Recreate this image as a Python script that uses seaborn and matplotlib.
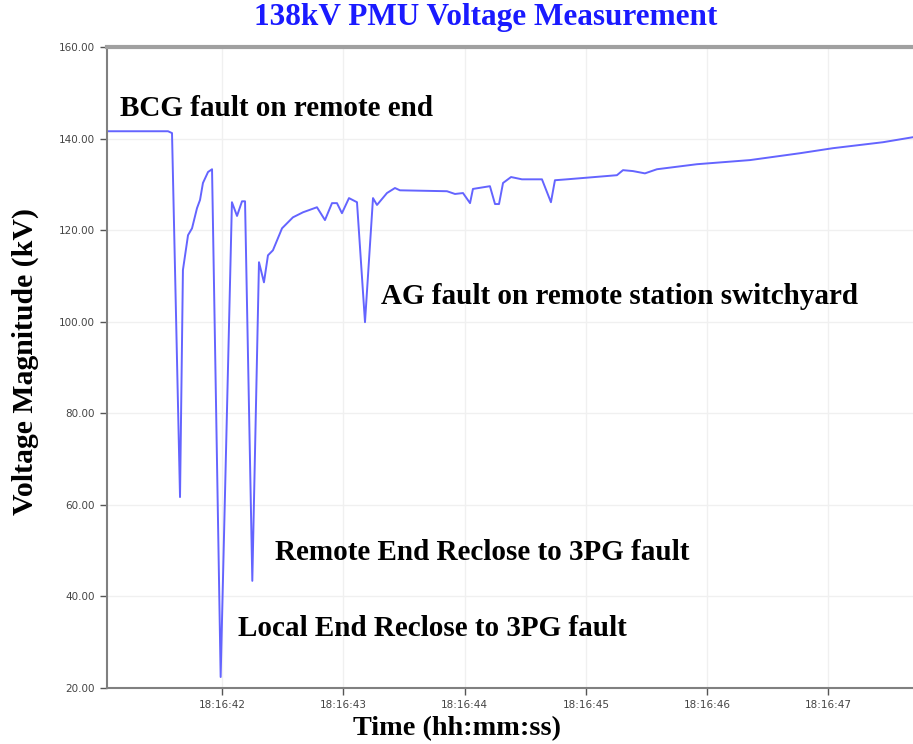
import pandas as pd
import numpy as np
import matplotlib
matplotlib.use("Agg")
import matplotlib.pyplot as plt
import matplotlib.dates as mdates
import seaborn as sns

# seconds after 18:16:00
seconds = [41.052, 41.555, 41.588, 41.654, 41.678, 41.720, 41.753, 41.794, 41.819, 41.843,
           41.885, 41.918, 41.989, 42.082, 42.124, 42.165, 42.190, 42.250, 42.305, 42.346,
           42.379, 42.420, 42.495, 42.585, 42.668, 42.783, 42.849, 42.907, 42.948, 42.989,
           43.047, 43.113, 43.179, 43.245, 43.278, 43.360, 43.426, 43.467, 43.855, 43.921,
           43.987, 44.045, 44.069, 44.209, 44.251, 44.284, 44.317, 44.383, 44.473, 44.638,
           44.712, 44.745, 44.844, 45.256, 45.306, 45.388, 45.487, 45.586, 45.916, 46.353,
           46.765, 47.037, 47.449, 47.697]
voltage_kv = [141.6, 141.6, 141.2, 61.7, 111.3, 118.9, 120.4, 124.8, 126.6, 130.3,
              132.7, 133.3, 22.4, 126.1, 123.1, 126.3, 126.3, 43.4, 113.0, 108.6,
              114.5, 115.6, 120.4, 122.8, 123.9, 125.0, 122.2, 125.9, 125.9, 123.7,
              127.0, 126.1, 99.9, 127.0, 125.5, 128.1, 129.2, 128.7, 128.5, 127.9,
              128.1, 125.9, 129.0, 129.6, 125.7, 125.7, 130.3, 131.6, 131.1, 131.1,
              126.1, 130.9, 131.1, 132.0, 133.1, 132.9, 132.4, 133.3, 134.4, 135.3,
              136.8, 137.9, 139.2, 140.3]

event_labels = ["BCG fault on remote end",
                "AG fault on remote station switchyard",
                "Remote End Reclose to 3PG fault",
                "Local End Reclose to 3PG fault"]
event_sec = [41.159, 43.311, 42.437, 42.132]
event_kv = [146.6, 105.6, 49.7, 33.1]

y_ticks = [20, 40, 60, 80, 100, 120, 140, 160]
x_tick_sec = [42, 43, 44, 45, 46, 47]

base = pd.Timestamp("2020-01-01 18:16:00")
df = pd.DataFrame({"time": base + pd.to_timedelta(seconds, unit="s"),
                   "voltage": voltage_kv})

sns.set_theme(style="white")
plt.rcParams["font.family"] = ["DejaVu Sans"]

fig = plt.figure(figsize=(9.13, 7.44), dpi=100)
ax = fig.add_axes([107 / 913, 56 / 744, 806 / 913, 641 / 744])

sns.lineplot(data=df, x="time", y="voltage", ax=ax, color="#6464ff", linewidth=1.4)

ax.set_xlim(df["time"].iloc[0], df["time"].iloc[-1])
ax.set_ylim(20, 160)
ax.set_yticks(y_ticks)
ax.set_yticklabels([f"{v:.2f}" for v in y_ticks])
ax.set_xticks(list(base + pd.to_timedelta(x_tick_sec, unit="s")))
ax.xaxis.set_major_formatter(mdates.DateFormatter("%H:%M:%S"))

ax.grid(True, color="#f0f0f0", linewidth=1)
ax.tick_params(axis="both", labelsize=7.5, colors="#555555", length=5, width=1,
               direction="out", bottom=True, left=True)
for lbl in ax.get_xticklabels() + ax.get_yticklabels():
    lbl.set_color("#444444")

for side in ["left", "bottom"]:
    ax.spines[side].set_color("#808080")
    ax.spines[side].set_linewidth(1.5)
ax.spines["top"].set_color("#a0a0a0")
ax.spines["top"].set_linewidth(3)
ax.spines["right"].set_visible(False)

serif = ["Liberation Serif", "DejaVu Serif"]
for lab, s, v in zip(event_labels, event_sec, event_kv):
    ax.text(base + pd.Timedelta(seconds=s), v, lab, ha="left", va="center",
            fontsize=21, fontweight="bold", family=serif, color="black")

fig.text(486 / 913, 1 - 17 / 744, "138kV PMU Voltage Measurement", ha="center", va="center",
         fontsize=22.5, fontweight="bold", family=serif, color="#1a1aff")
ax.set_xlabel("Time (hh:mm:ss)", fontsize=20.3, fontweight="bold", family=serif,
              color="black", va="center")
ax.xaxis.set_label_coords((457 - 107) / 806, (688 - 729) / 641)
ax.set_ylabel("Voltage Magnitude (kV)", fontsize=21.4, fontweight="bold", family=serif,
              color="black", va="center")
ax.yaxis.set_label_coords((25 - 107) / 806, (688 - 362) / 641)

fig.savefig("out.png", dpi=100)
